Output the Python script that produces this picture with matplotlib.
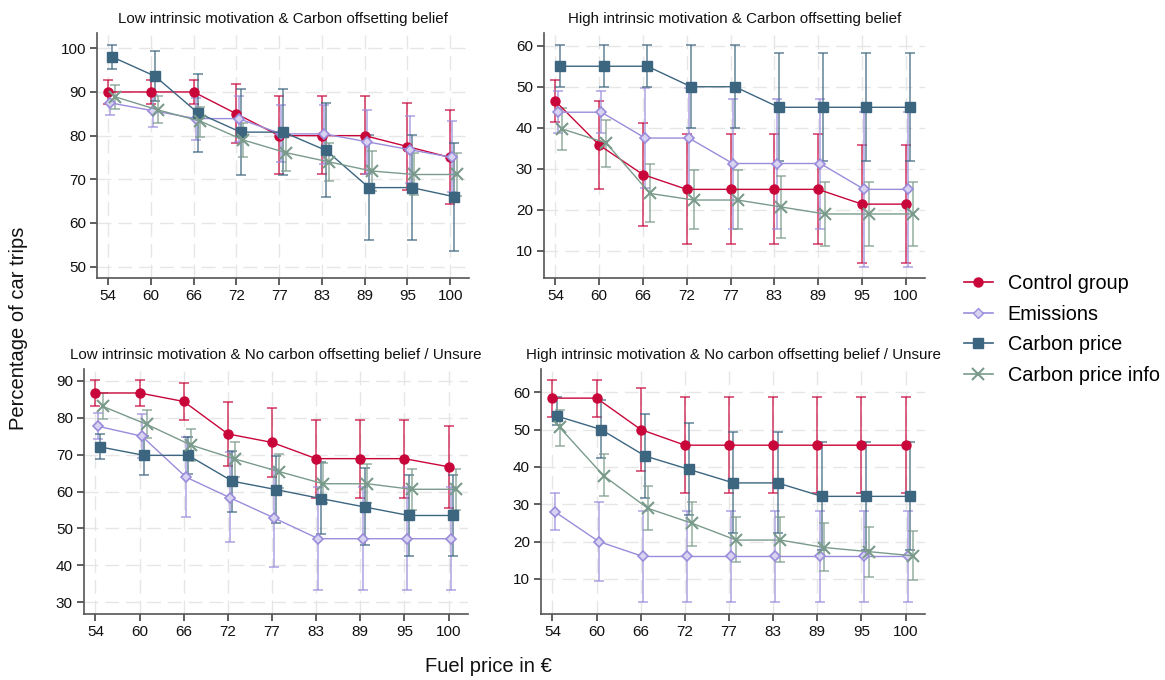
import matplotlib
matplotlib.use("Agg")
import matplotlib.pyplot as plt
from matplotlib.lines import Line2D
import numpy as np

plt.rcParams['font.family'] = ['Liberation Sans', 'DejaVu Sans']

prices = ["54", "60", "66", "72", "77", "83", "89", "95", "100"]
groups = ["Control group", "Emissions", "Carbon price", "Carbon price info"]

titles = [
    "Low intrinsic motivation & Carbon offsetting belief",
    "High intrinsic motivation & Carbon offsetting belief",
    "Low intrinsic motivation & No carbon offsetting belief / Unsure",
    "High intrinsic motivation & No carbon offsetting belief / Unsure",
]

# Panel 1: Low intrinsic & Carbon offsetting belief
p1_control = [90, 90, 90, 85, 80, 80, 80, 77.5, 75]
p1_control_lo = [87.2, 87.2, 87.2, 78.2, 71.1, 71.1, 71.1, 67.5, 64.3]
p1_control_hi = [92.8, 92.8, 92.8, 91.9, 89.0, 89.0, 89.0, 87.5, 85.8]
p1_emis = [87.5, 85.7, 83.9, 83.9, 80.4, 80.4, 78.6, 76.8, 75.0]
p1_emis_lo = [84.8, 81.9, 79.1, 78.5, 74.0, 73.6, 71.2, 69.2, 67.0]
p1_emis_hi = [90.1, 89.3, 88.6, 89.0, 86.9, 87.0, 85.8, 84.5, 83.3]
p1_cp = [98.0, 93.6, 85.2, 80.8, 80.8, 76.6, 68.1, 68.1, 66.0]
p1_cp_lo = [95.2, 88.0, 76.3, 71.0, 71.0, 66.0, 56.0, 56.0, 53.6]
p1_cp_hi = [100.7, 99.4, 94.0, 90.7, 90.7, 87.4, 80.2, 80.2, 78.4]
p1_info = [88.9, 85.9, 83.3, 79.0, 76.1, 74.0, 71.9, 71.1, 71.1]
p1_info_lo = [86.0, 83.0, 79.8, 75.0, 72.0, 69.5, 67.3, 66.4, 66.2]
p1_info_hi = [91.6, 89.0, 86.6, 82.8, 80.3, 78.4, 76.5, 76.0, 76.0]

# Panel 2: High intrinsic & Carbon offsetting belief
p2_control = [46.5, 35.8, 28.6, 25.0, 25.0, 25.0, 25.0, 21.4, 21.4]
p2_control_lo = [41.3, 25.1, 16.0, 11.6, 11.6, 11.6, 11.6, 7.1, 7.1]
p2_control_hi = [51.6, 46.5, 41.2, 38.4, 38.4, 38.4, 38.4, 35.7, 35.7]
p2_emis = [43.8, 43.8, 37.5, 37.5, 31.3, 31.3, 31.3, 25.0, 25.0]
p2_emis_lo = [38.7, 38.7, 25.3, 25.3, 15.4, 15.4, 15.4, 6.2, 6.2]
p2_emis_hi = [49.0, 49.0, 49.8, 49.8, 47.1, 47.1, 47.1, 43.9, 43.9]
p2_cp = [55.0, 55.0, 55.0, 50.0, 50.0, 45.0, 45.0, 45.0, 45.0]
p2_cp_lo = [49.9, 49.9, 49.9, 40.0, 40.0, 31.9, 31.9, 31.9, 31.9]
p2_cp_hi = [60.2, 60.2, 60.2, 60.1, 60.1, 58.2, 58.2, 58.2, 58.2]
p2_info = [39.7, 36.3, 24.0, 22.4, 22.4, 20.7, 19.0, 19.0, 19.0]
p2_info_lo = [34.6, 30.5, 17.1, 15.3, 15.3, 13.2, 11.1, 11.1, 11.1]
p2_info_hi = [44.8, 42.0, 31.2, 29.6, 29.6, 28.3, 26.8, 26.8, 26.8]

# Panel 3: Low intrinsic & No carbon offsetting belief / Unsure
p3_control = [86.7, 86.7, 84.4, 75.6, 73.3, 68.9, 68.9, 68.9, 66.7]
p3_control_lo = [83.2, 83.2, 79.3, 66.8, 64.0, 58.3, 58.3, 58.3, 55.6]
p3_control_hi = [90.1, 90.1, 89.5, 84.3, 82.7, 79.4, 79.4, 79.4, 77.7]
p3_emis = [77.7, 75.0, 63.9, 58.3, 52.8, 47.2, 47.2, 47.2, 47.2]
p3_emis_lo = [74.2, 69.0, 53.2, 46.2, 39.5, 33.2, 33.2, 33.2, 33.2]
p3_emis_hi = [81.3, 81.0, 74.7, 70.8, 66.0, 61.3, 61.3, 61.3, 61.3]
p3_cp = [72.1, 69.8, 69.8, 62.8, 60.5, 58.1, 55.8, 53.5, 53.5]
p3_cp_lo = [68.7, 64.5, 64.7, 54.4, 51.4, 48.4, 45.5, 42.5, 42.5]
p3_cp_hi = [75.5, 75.0, 74.9, 71.0, 69.7, 68.0, 66.3, 64.6, 64.6]
p3_info = [83.1, 78.2, 72.6, 68.8, 65.4, 62.1, 62.1, 60.6, 60.6]
p3_info_lo = [79.6, 74.6, 68.3, 64.0, 61.0, 57.0, 56.8, 55.0, 55.0]
p3_info_hi = [86.6, 82.2, 77.0, 73.3, 70.2, 67.7, 67.4, 66.1, 66.1]

# Panel 4: High intrinsic & No carbon offsetting belief / Unsure
p4_control = [58.4, 58.4, 50.0, 45.8, 45.8, 45.8, 45.8, 45.8, 45.8]
p4_control_lo = [53.3, 53.3, 38.9, 32.9, 32.9, 32.9, 32.9, 32.9, 32.9]
p4_control_hi = [63.3, 63.3, 61.1, 58.8, 58.8, 58.8, 58.8, 58.8, 58.8]
p4_emis = [28.0, 20.0, 16.0, 16.0, 16.0, 16.0, 16.0, 16.0, 16.0]
p4_emis_lo = [23.1, 9.5, 3.8, 3.8, 3.8, 3.8, 3.8, 3.8, 3.8]
p4_emis_hi = [32.9, 30.5, 28.3, 28.3, 28.3, 28.3, 28.3, 28.3, 28.3]
p4_cp = [53.6, 50.0, 42.9, 39.3, 35.7, 35.7, 32.1, 32.1, 32.1]
p4_cp_lo = [51.2, 42.3, 31.6, 27.0, 22.2, 22.2, 17.8, 17.8, 17.8]
p4_cp_hi = [58.7, 57.8, 54.1, 51.7, 49.2, 49.2, 46.6, 46.6, 46.6]
p4_info = [50.6, 37.6, 28.9, 24.9, 20.4, 20.4, 18.4, 17.3, 16.2]
p4_info_lo = [45.6, 32.1, 23.1, 18.7, 14.4, 14.4, 12.0, 10.6, 9.6]
p4_info_hi = [55.3, 43.4, 35.0, 30.7, 26.7, 26.7, 24.9, 23.8, 22.9]

panels = [
    [(p1_control, p1_control_lo, p1_control_hi), (p1_emis, p1_emis_lo, p1_emis_hi),
     (p1_cp, p1_cp_lo, p1_cp_hi), (p1_info, p1_info_lo, p1_info_hi)],
    [(p2_control, p2_control_lo, p2_control_hi), (p2_emis, p2_emis_lo, p2_emis_hi),
     (p2_cp, p2_cp_lo, p2_cp_hi), (p2_info, p2_info_lo, p2_info_hi)],
    [(p3_control, p3_control_lo, p3_control_hi), (p3_emis, p3_emis_lo, p3_emis_hi),
     (p3_cp, p3_cp_lo, p3_cp_hi), (p3_info, p3_info_lo, p3_info_hi)],
    [(p4_control, p4_control_lo, p4_control_hi), (p4_emis, p4_emis_lo, p4_emis_hi),
     (p4_cp, p4_cp_lo, p4_cp_hi), (p4_info, p4_info_lo, p4_info_hi)],
]

yticks = [[50, 60, 70, 80, 90, 100], [10, 20, 30, 40, 50, 60],
          [30, 40, 50, 60, 70, 80, 90], [10, 20, 30, 40, 50, 60]]
ylims = [(47.4, 103.5), (3.4, 63.1), (26.8, 93.2), (0.6, 66.2)]

colors = ["#C8063A", "#9A8CDB", "#3C6580", "#7A9B8B"]
markers = ["o", "D", "s", "x"]
msizes = [6.5, 5.5, 7.5, 9]
offsets = [0.0, 0.05, 0.10, 0.16]

W, H = 1165, 680
fig = plt.figure(figsize=(W / 100, H / 100), dpi=100)

# axes boxes in pixels: left, top, right, bottom
boxes = [(97, 33, 469, 278), (544, 33, 925, 278),
         (84, 369, 468, 614), (541, 369, 925, 614)]

grid_c = "#E6E6E6"
axis_c = "#555555"
x = np.arange(1, len(prices) + 1)

for i, (l, t, r, b) in enumerate(boxes):
    ax = fig.add_axes([l / W, 1 - b / H, (r - l) / W, (b - t) / H])
    for j, (vals, lo, hi) in enumerate(panels[i]):
        xx = x + offsets[j]
        vals = np.array(vals); lo = np.array(lo); hi = np.array(hi)
        ax.errorbar(xx, vals, yerr=[vals - lo, hi - vals], fmt="none",
                    ecolor=colors[j], elinewidth=1.1, capsize=3.5, capthick=1.1,
                    alpha=0.8, zorder=2)
        if markers[j] == "D":
            ax.plot(xx, vals, color=colors[j], lw=1.0, marker="D", ms=msizes[j],
                    mfc="#D9D3F2", mec=colors[j], mew=1.2, zorder=3)
        elif markers[j] == "x":
            ax.plot(xx, vals, color=colors[j], lw=1.0, marker="x", ms=msizes[j],
                    mew=1.5, zorder=3)
        else:
            ax.plot(xx, vals, color=colors[j], lw=1.0, marker=markers[j],
                    ms=msizes[j], zorder=3)
    ax.set_xlim(0.74, 9.44)
    ax.set_ylim(*ylims[i])
    ax.set_xticks(x)
    ax.set_xticklabels(prices)
    ax.set_yticks(yticks[i])
    ax.grid(True, color=grid_c, linestyle=(0, (10, 5)), linewidth=1.0)
    ax.set_axisbelow(True)
    for s in ["top", "right"]:
        ax.spines[s].set_visible(False)
    for s in ["left", "bottom"]:
        ax.spines[s].set_color(axis_c)
        ax.spines[s].set_linewidth(1.2)
    ax.tick_params(axis="both", colors="#333333", labelcolor="#111111",
                   labelsize=11, length=5, width=1.1, pad=3)
    ax.set_title(titles[i], fontsize=10.9, pad=7, color="#111111")

fig.text(18.5 / W, 1 - 328.5 / H, "Percentage of car trips", rotation=90,
         ha="center", va="center", fontsize=14.5, color="#111111")
fig.text(488 / W, 1 - 667 / H, "Fuel price in €", ha="center", va="center",
         fontsize=14.5, color="#111111")

handles = []
for j in range(4):
    if markers[j] == "D":
        h = Line2D([], [], color=colors[j], marker="D", ms=5, mfc="#D9D3F2",
                   mec=colors[j], lw=1.2)
    elif markers[j] == "x":
        h = Line2D([], [], color=colors[j], marker="x", ms=8, mew=1.5, lw=1.2)
    else:
        h = Line2D([], [], color=colors[j], marker=markers[j], ms=6.5, lw=1.2)
    handles.append(h)
fig.legend(handles, groups, loc="center left", bbox_to_anchor=(946 / W, 1 - 329.5 / H),
           frameon=False, fontsize=14.3, handlelength=1.46, handletextpad=0.75,
           labelspacing=0.58)

fig.savefig("out.png", dpi=100)
